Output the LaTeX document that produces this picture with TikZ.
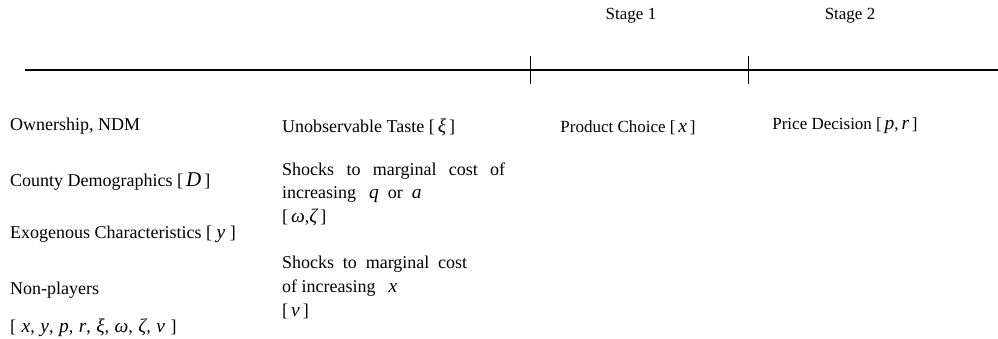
\documentclass[tikz,border=0pt]{standalone}
\usepackage{fontspec}
\setmainfont{Liberation Serif}
\usetikzlibrary{positioning}

\newcommand{\vr}[1]{{\fontsize{19.5}{23}\selectfont\itshape #1}}
\newcommand{\gp}{\hspace{5.5pt}}

\begin{document}
\begin{tikzpicture}[
    x=1pt, y=-1pt,
    font=\fontsize{17}{23.5}\selectfont,
    txt/.style={anchor=west, inner sep=0pt, align=left,
      font=\fontsize{18}{23.5}\selectfont},
    stagelbl/.style={anchor=center, inner sep=0pt},
    tick/.style={line width=0.9pt},
  ]
    \useasboundingbox (0,0) rectangle (998,339);

    % time line
    \coordinate (tl0) at (25,70);
    \coordinate (tl1) at (998,70);
    \draw[line width=1.1pt] (tl0) -- (tl1);
    \foreach \n/\x in {t1/530,t2/748}{
      \coordinate (\n a) at (\x,56);
      \coordinate (\n b) at (\x,84);
      \draw[tick] (\n a) -- (\n b);
    }

    \node[stagelbl] (s1) at (631,16) {Stage 1};
    \node[stagelbl] (s2) at (850,16) {Stage 2};

    % before the game
    \node[txt] (own)  at (10,126) {Ownership, NDM};
    \node[txt] (dem)  at (10,182) {County Demographics [\,{\fontsize{21}{23}\selectfont\itshape D}\,]};
    \node[txt] (exo)  at (10,234) {Exogenous Characteristics [ \vr{y} ]};
    \node[txt] (np)   at (10,290) {Non-players};
    \node[txt] (npv)  at (10,328) {[\gp\vr{x},\gp\vr{y},\gp\vr{p},\gp\vr{r},\gp\vr{ξ},\gp\vr{ω},\gp\vr{ζ},\gp\vr{ν}\gp]};

    % unobservables
    \node[txt] (xi)   at (282,127) {Unobservable Taste [\,\vr{ξ}\,]};
    \node[txt] (shq)  at (282,194) {\makebox[223pt][s]{Shocks to marginal cost of}\\
                                    increasing\hspace{13pt}\vr{q}\hspace{9pt}or\hspace{9pt}\vr{a}\\{}[\,\vr{ω},\vr{ζ}\,]};
    \node[txt, font=\fontsize{18}{24}\selectfont] (shx) at (282,287)
      {\makebox[185pt][s]{Shocks to marginal cost}\\
       of increasing\hspace{13pt}\vr{x}\\{}[\,\vr{ν}\,]};

    % stages
    \node[stagelbl] (pc) at (628,128) {Product Choice [\,\vr{x}\,]};
    \node[stagelbl] (pd) at (845,126) {Price Decision [\,\vr{p},\,\vr{r}\,]};
  \end{tikzpicture}
\end{document}
